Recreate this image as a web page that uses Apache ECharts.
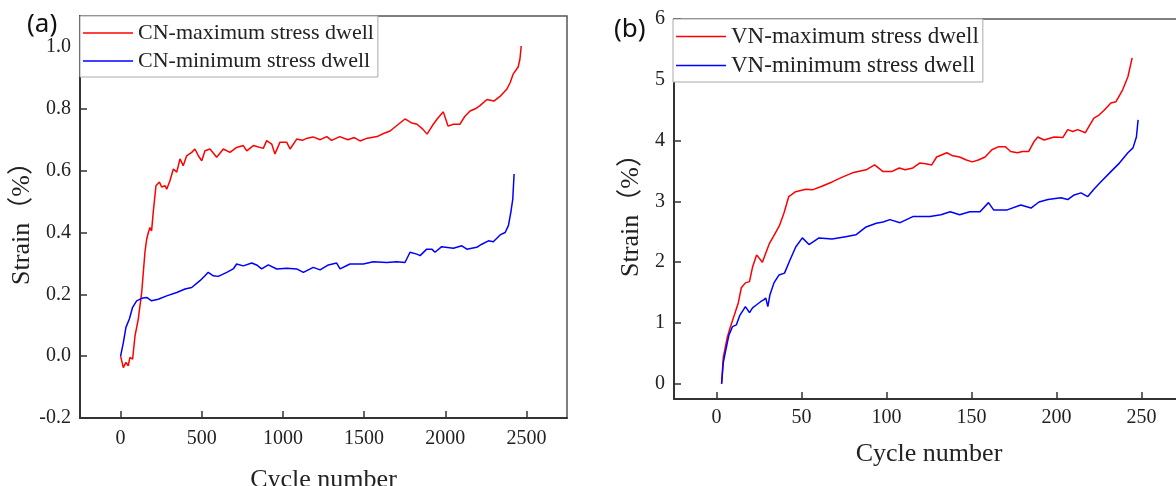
<!DOCTYPE html>
<html>
<head>
<meta charset="utf-8">
<script src="https://cdn.jsdelivr.net/npm/echarts@6/dist/echarts.min.js"></script>
<style>
  html, body { margin: 0; padding: 0; background: #fff; }
  #chart { width: 1176px; height: 486px; }
</style>
</head>
<body>
<div id="chart"></div>
<script>
// (a) CN specimens: [cycle, strain %]
const cnMax = [
  [0, 0], [7, 0.001], [17, -0.037], [33, -0.02], [47, -0.031], [58, -0.004], [74, -0.01],
  [89, 0.066], [109, 0.12], [130, 0.206], [150, 0.336], [161, 0.379], [171, 0.4], [181, 0.416],
  [191, 0.405], [202, 0.47], [218, 0.551], [239, 0.563], [253, 0.547], [274, 0.551], [284, 0.54],
  [304, 0.567], [325, 0.605], [346, 0.595], [366, 0.638], [386, 0.616], [407, 0.648], [438, 0.659],
  [458, 0.67], [479, 0.648], [500, 0.632], [520, 0.664], [551, 0.67], [592, 0.643], [633, 0.67],
  [674, 0.659], [715, 0.675], [756, 0.681], [777, 0.664], [818, 0.681], [879, 0.672], [900, 0.697],
  [931, 0.686], [951, 0.654], [982, 0.692], [1023, 0.692], [1044, 0.67], [1085, 0.702], [1120, 0.698],
  [1150, 0.705], [1186, 0.709], [1230, 0.7], [1270, 0.71], [1300, 0.698], [1350, 0.71], [1400, 0.7],
  [1440, 0.707], [1475, 0.696], [1520, 0.705], [1580, 0.71], [1620, 0.72], [1660, 0.728],
  [1700, 0.745], [1752, 0.767], [1790, 0.755], [1826, 0.75], [1860, 0.735], [1888, 0.718],
  [1920, 0.745], [1950, 0.767], [1988, 0.79], [2017, 0.744], [2050, 0.75], [2091, 0.75],
  [2120, 0.775], [2153, 0.793], [2185, 0.8], [2214, 0.81], [2257, 0.83], [2300, 0.825],
  [2337, 0.84], [2380, 0.864], [2400, 0.885], [2418, 0.912], [2449, 0.935], [2460, 0.96], [2468, 1.003]
];
const cnMin = [
  [0, 0], [17, 0.044], [33, 0.093], [54, 0.12], [74, 0.158], [99, 0.179], [130, 0.187],
  [161, 0.19], [191, 0.179], [232, 0.184], [284, 0.195], [346, 0.206], [397, 0.217], [438, 0.222],
  [489, 0.244], [520, 0.26], [540, 0.271], [571, 0.26], [602, 0.258], [654, 0.271], [694, 0.282],
  [715, 0.298], [756, 0.292], [808, 0.301], [838, 0.295], [869, 0.282], [910, 0.295], [962, 0.282],
  [1023, 0.284], [1085, 0.282], [1126, 0.271], [1187, 0.287], [1229, 0.279], [1280, 0.295],
  [1331, 0.301], [1352, 0.282], [1413, 0.298], [1495, 0.298], [1557, 0.305], [1640, 0.303],
  [1701, 0.305], [1752, 0.303], [1783, 0.336], [1825, 0.33], [1845, 0.325], [1886, 0.346],
  [1917, 0.346], [1937, 0.336], [1978, 0.354], [2050, 0.349], [2102, 0.357], [2133, 0.346],
  [2194, 0.352], [2225, 0.362], [2266, 0.373], [2296, 0.37], [2338, 0.392], [2369, 0.4],
  [2389, 0.422], [2404, 0.465], [2416, 0.508], [2424, 0.589]
];

// (b) VN specimens: [cycle, strain %]
const vnMax = [
  [3, 0], [4, 0.44], [6.4, 0.77], [8.2, 0.94], [10.5, 1.13], [12.8, 1.33], [14.6, 1.58],
  [17, 1.66], [19.4, 1.68], [21.2, 1.92], [23.6, 2.12], [27, 2.0], [29, 2.15], [31, 2.3],
  [33, 2.4], [35, 2.5], [37, 2.6], [39.7, 2.81], [42.5, 3.08], [46.6, 3.16], [52.5, 3.2],
  [56.4, 3.19], [62, 3.25], [68, 3.32], [74, 3.4], [80, 3.47], [88, 3.52], [93, 3.6],
  [98, 3.49], [103, 3.49], [107.5, 3.55], [111, 3.52], [115.5, 3.55], [119.5, 3.63], [123, 3.62],
  [126.6, 3.6], [129.5, 3.73], [135.5, 3.8], [139, 3.75], [143, 3.73], [147, 3.68], [150.5, 3.65],
  [154, 3.68], [158, 3.73], [162, 3.85], [166, 3.9], [170, 3.9], [173, 3.82], [177, 3.8],
  [180, 3.82], [183.6, 3.82], [186.7, 3.98], [189, 4.06], [192.7, 4.01], [198.6, 4.06],
  [203.7, 4.05], [206.6, 4.18], [209.6, 4.15], [212.5, 4.18], [217, 4.13], [219, 4.23],
  [222, 4.37], [225, 4.42], [228, 4.5], [232, 4.62], [235, 4.64], [239, 4.84], [242, 5.05],
  [244.5, 5.36]
];
const vnMin = [
  [3, 0], [4, 0.35], [5.5, 0.56], [7.3, 0.8], [9.4, 0.94], [11.7, 0.97], [13.8, 1.13],
  [15.9, 1.22], [17, 1.27], [19.4, 1.17], [21.2, 1.25], [23.6, 1.3], [25.9, 1.35], [27.7, 1.38],
  [29, 1.41], [30.2, 1.27], [31.4, 1.46], [33.8, 1.66], [36.8, 1.79], [40, 1.82], [43.3, 2.04],
  [46.6, 2.25], [50.5, 2.4], [54.4, 2.29], [60.3, 2.4], [68, 2.38], [76, 2.42], [82, 2.45],
  [88, 2.58], [94, 2.64], [98, 2.66], [102, 2.7], [108, 2.65], [115.5, 2.75], [125.6, 2.75],
  [132, 2.78], [137.5, 2.83], [143, 2.78], [149, 2.83], [155, 2.83], [160, 2.98], [163, 2.86],
  [171, 2.86], [179, 2.94], [185, 2.89], [189.7, 2.99], [195, 3.03], [202.6, 3.06], [206.6, 3.03],
  [210, 3.1], [214.4, 3.14], [218.4, 3.08], [222, 3.2], [226, 3.32], [232, 3.49], [237, 3.63],
  [242, 3.8], [245, 3.88], [247, 4.06], [248, 4.34]
];

const serif = "'Liberation Serif', 'Times New Roman', 'Noto Sans CJK SC', serif";
const ink = '#222';

const chart = echarts.init(document.getElementById('chart'), null, { renderer: 'canvas' });

const xAxisBase = (min, max, gap, margin) => ({
  type: 'value',
  min: min,
  max: max,
  name: 'Cycle number',
  nameLocation: 'middle',
  nameGap: gap,
  nameTextStyle: { fontFamily: serif, fontSize: 26, color: ink },
  axisLine: { onZero: false, lineStyle: { color: '#333', width: 2 } },
  axisTick: { inside: true, length: 7, lineStyle: { color: '#333', width: 1.5 } },
  axisLabel: {
    showMinLabel: false, showMaxLabel: false, formatter: v => String(v),
    fontFamily: serif, fontSize: 20, color: ink, margin: margin
  },
  splitLine: { show: false }
});

const yAxisBase = (min, max, gap, fmt) => ({
  type: 'value',
  min: min,
  max: max,
  name: 'Strain（%）',
  nameLocation: 'middle',
  nameGap: gap,
  nameTextStyle: { fontFamily: serif, fontSize: 26, color: ink },
  axisLine: { onZero: false, lineStyle: { color: '#333', width: 2 } },
  axisTick: { inside: true, length: 7, lineStyle: { color: '#333', width: 1.5 } },
  axisLabel: { formatter: fmt, fontFamily: serif, fontSize: 20, color: ink, margin: 9 },
  splitLine: { show: false }
});

const lineSeries = (name, data, color, idx) => ({
  name: name,
  type: 'line',
  data: data,
  xAxisIndex: idx,
  yAxisIndex: idx,
  symbol: 'none',
  showSymbol: false,
  lineStyle: { color: color, width: 1.5 },
  itemStyle: { color: color },
  animation: false
});

const legendBase = (left, top, names, size) => ({
  left: left,
  top: top,
  orient: 'vertical',
  data: names,
  icon: 'rect',
  itemWidth: 50,
  itemHeight: 1.5,
  itemGap: 6,
  padding: [6, 4, 5, 3],
  borderColor: '#aaa',
  borderWidth: 1,
  backgroundColor: '#fff',
  textStyle: { fontFamily: serif, fontSize: size, color: ink }
});

chart.setOption({
  animation: false,
  title: [
    { text: '(a)', left: 27, top: 12, padding: 0,
      textStyle: { fontFamily: 'Noto Sans', fontSize: 26, fontWeight: 'normal', color: '#111' } },
    { text: '(b)', left: 614, top: 17, padding: 0,
      textStyle: { fontFamily: 'Noto Sans', fontSize: 26, fontWeight: 'normal', color: '#111' } }
  ],
  grid: [
    { left: 80, top: 16, right: 609, bottom: 68, outerBoundsMode: 'none', containLabel: false,
      show: true, borderColor: '#555', borderWidth: 1.5 },
    { left: 674, top: 19, right: -8, bottom: 87, outerBoundsMode: 'none', containLabel: false,
      show: true, borderColor: '#555', borderWidth: 1.5 }
  ],
  legend: [
    legendBase(80, 16, ['CN-maximum stress dwell', 'CN-minimum stress dwell'], 22),
    legendBase(673, 19, ['VN-maximum stress dwell', 'VN-minimum stress dwell'], 23)
  ],
  xAxis: [
    Object.assign(xAxisBase(-250, 2750, 49, 11), { gridIndex: 0 }),
    Object.assign(xAxisBase(-25, 275, 42, 9), { gridIndex: 1 })
  ],
  yAxis: [
    Object.assign(yAxisBase(-0.2, 1.1, 45, v => v.toFixed(1)), { gridIndex: 0, interval: 0.2 }),
    Object.assign(yAxisBase(-0.25, 6, 30, v => (Math.abs(v - Math.round(v)) < 1e-6 ? String(Math.round(v)) : '')), { gridIndex: 1 })
  ],
  series: [
    lineSeries('CN-maximum stress dwell', cnMax, '#ff0000', 0),
    lineSeries('CN-minimum stress dwell', cnMin, '#0000ff', 0),
    lineSeries('VN-maximum stress dwell', vnMax, '#ff0000', 1),
    lineSeries('VN-minimum stress dwell', vnMin, '#0000ff', 1)
  ]
});
// hide the 1.1 boundary label on the left y axis
chart.setOption({ yAxis: [{ axisLabel: { showMaxLabel: false } }, {}] });
</script>
</body>
</html>
